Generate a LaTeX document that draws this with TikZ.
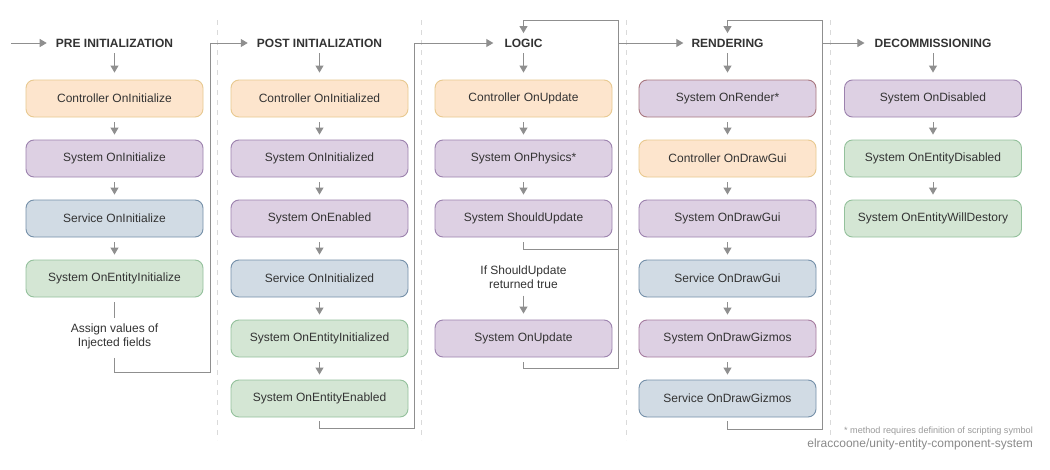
\documentclass[tikz,border=0pt]{standalone}
\usepackage{fontspec}
\setmainfont{Liberation Sans}
\usetikzlibrary{arrows.meta}
\definecolor{txt}{HTML}{333333}
\definecolor{lnc}{HTML}{8F8F8F}
\definecolor{sepc}{HTML}{DADADA}
\definecolor{ctrlF}{HTML}{FDE5CD}
\definecolor{ctrlD}{HTML}{E8C990}
\definecolor{sysF}{HTML}{DDD0E3}
\definecolor{sysD}{HTML}{9C82AE}
\definecolor{renD}{HTML}{A8777F}
\definecolor{gizD}{HTML}{A57C9F}
\definecolor{srvF}{HTML}{D1DBE4}
\definecolor{srvD}{HTML}{7590A9}
\definecolor{entF}{HTML}{D4E6D4}
\definecolor{entD}{HTML}{94C19C}
\definecolor{footc}{HTML}{9A9A9A}
\definecolor{repoc}{HTML}{8A8A8A}
\tikzset{
  box/.style={draw, rounded corners=8pt, minimum width=177pt, minimum height=37pt,
    line width=0.9pt, font=\fontsize{12}{14}\selectfont, text=txt, inner sep=0pt},
  ctrl/.style={box, fill=ctrlF, draw=ctrlD},
  sys/.style={box, fill=sysF, draw=sysD},
  srv/.style={box, fill=srvF, draw=srvD},
  ent/.style={box, fill=entF, draw=entD},
  hd/.style={font=\bfseries\fontsize{12}{14}\selectfont, text=txt, inner sep=0pt},
  lbl/.style={align=center, font=\fontsize{12}{14}\selectfont, text=txt, inner sep=0pt},
  ln/.style={draw=lnc, line width=1pt},
  ar/.style={ln, -{Triangle[width=8pt,length=7pt]}},
  sepline/.style={draw=sepc, line width=1pt, dash pattern=on 5pt off 5pt},
}
\begin{document}
\begin{tikzpicture}[x=1pt,y=-1pt]
\useasboundingbox (0,0) rectangle (1050,469);
\fill[white] (0,0) rectangle (1050,469);
% separators
\foreach \sx in {217,421,626,830} { \draw[sepline] (\sx,20) -- (\sx,440); }
% headings
\node[hd] (h1) at (114.5,43) {PRE INITIALIZATION};
\node[hd] (h2) at (319.5,43) {POST INITIALIZATION};
\node[hd] (h3) at (523.5,43) {LOGIC};
\node[hd] (h4) at (727.5,43) {RENDERING};
\node[hd] (h5) at (933,43) {DECOMMISSIONING};
% column 1
\node[ctrl] (b11) at (114.5,98.5) {Controller OnInitialize};
\node[sys]  (b12) at (114.5,158.5) {System OnInitialize};
\node[srv]  (b13) at (114.5,218.5) {Service OnInitialize};
\node[ent]  (b14) at (114.5,278.5) {System OnEntityInitialize};
\node[lbl]  (l1)  at (114.5,336) {Assign values of\\Injected fields};
% column 2
\node[ctrl] (b21) at (319.5,98.5) {Controller OnInitialized};
\node[sys]  (b22) at (319.5,158.5) {System OnInitialized};
\node[sys]  (b23) at (319.5,218.5) {System OnEnabled};
\node[srv]  (b24) at (319.5,278.5) {Service OnInitialized};
\node[ent]  (b25) at (319.5,338.5) {System OnEntityInitialized};
\node[ent]  (b26) at (319.5,398.5) {System OnEntityEnabled};
% column 3
\node[ctrl] (b31) at (523.5,98.5) {Controller OnUpdate};
\node[sys]  (b32) at (523.5,158.5) {System OnPhysics*};
\node[sys]  (b33) at (523.5,218.5) {System ShouldUpdate};
\node[lbl]  (l3)  at (523.5,277) {If ShouldUpdate\\returned true};
\node[sys]  (b34) at (523.5,338.5) {System OnUpdate};
% column 4
\node[sys, draw=renD] (b41) at (727.5,98.5) {System OnRender*};
\node[ctrl] (b42) at (727.5,158.5) {Controller OnDrawGui};
\node[sys]  (b43) at (727.5,218.5) {System OnDrawGui};
\node[srv]  (b44) at (727.5,278.5) {Service OnDrawGui};
\node[sys, draw=gizD] (b45) at (727.5,338.5) {System OnDrawGizmos};
\node[srv]  (b46) at (727.5,398.5) {Service OnDrawGizmos};
% column 5
\node[sys]  (b51) at (933,98.5) {System OnDisabled};
\node[ent]  (b52) at (933,158.5) {System OnEntityDisabled};
\node[ent]  (b53) at (933,218.5) {System OnEntityWillDestory};
% coordinates
\coordinate (s0) at (11,43);
\coordinate (c1) at (210,372);
\coordinate (c2) at (414,428);
\coordinate (c3s) at (618,249);
\coordinate (c3b) at (618,368);
\coordinate (c3t) at (618,20);
\coordinate (c3m) at (618,43);
\coordinate (c4b) at (822,429);
\coordinate (c4t) at (822,20);
\coordinate (c4m) at (822,43);
% entry
\draw[ar, shorten >=9pt] (s0) -- (h1.west);
% heading to first box
\foreach \h/\b in {h1/b11,h2/b21,h3/b31,h4/b41,h5/b51}
  { \draw[ar, shorten <=6pt, shorten >=7pt] (\h) -- (\b); }
% box to box
\foreach \a/\b in {b11/b12,b12/b13,b13/b14,b21/b22,b22/b23,b23/b24,b24/b25,b25/b26,
  b31/b32,b32/b33,b41/b42,b42/b43,b43/b44,b44/b45,b45/b46,b51/b52,b52/b53}
  { \draw[ar, shorten <=5pt, shorten >=5pt] (\a) -- (\b); }
% column 1 exit
\draw[ln, shorten <=5pt, shorten >=5pt] (b14) -- (l1);
\draw[ar, shorten <=9pt, shorten >=9pt] (l1.south) |- (c1) |- (h2.west);
% column 2 exit
\draw[ar, shorten <=4pt, shorten >=11pt] (b26.south) |- (c2) |- (h3.west);
% column 3
\draw[ln, shorten <=5pt] (b33.south) |- (c3s);
\draw[ar, shorten <=7pt, shorten >=6pt] (l3) -- (b34);
\draw[ar, shorten <=5pt, shorten >=5.5pt] (b34.south) |- (c3b) -- (c3t) -| (h3.north);
\draw[ar, shorten >=8pt] (c3m) -- (h4.west);
% column 4
\draw[ar, shorten <=4pt, shorten >=5.5pt] (b46.south) |- (c4b) -- (c4t) -| (h4.north);
\draw[ar, shorten >=10pt] (c4m) -- (h5.west);
% footer
\node[anchor=east, inner sep=0pt, text=footc, font=\fontsize{9.1}{10}\selectfont] (fn) at (1033,431) {* method requires definition of scripting symbol};
\node[anchor=east, inner sep=0pt, text=repoc, font=\fontsize{12}{13}\selectfont] (repo) at (1033,444.5) {elraccoone/unity-entity-component-system};
\end{tikzpicture}
\end{document}
